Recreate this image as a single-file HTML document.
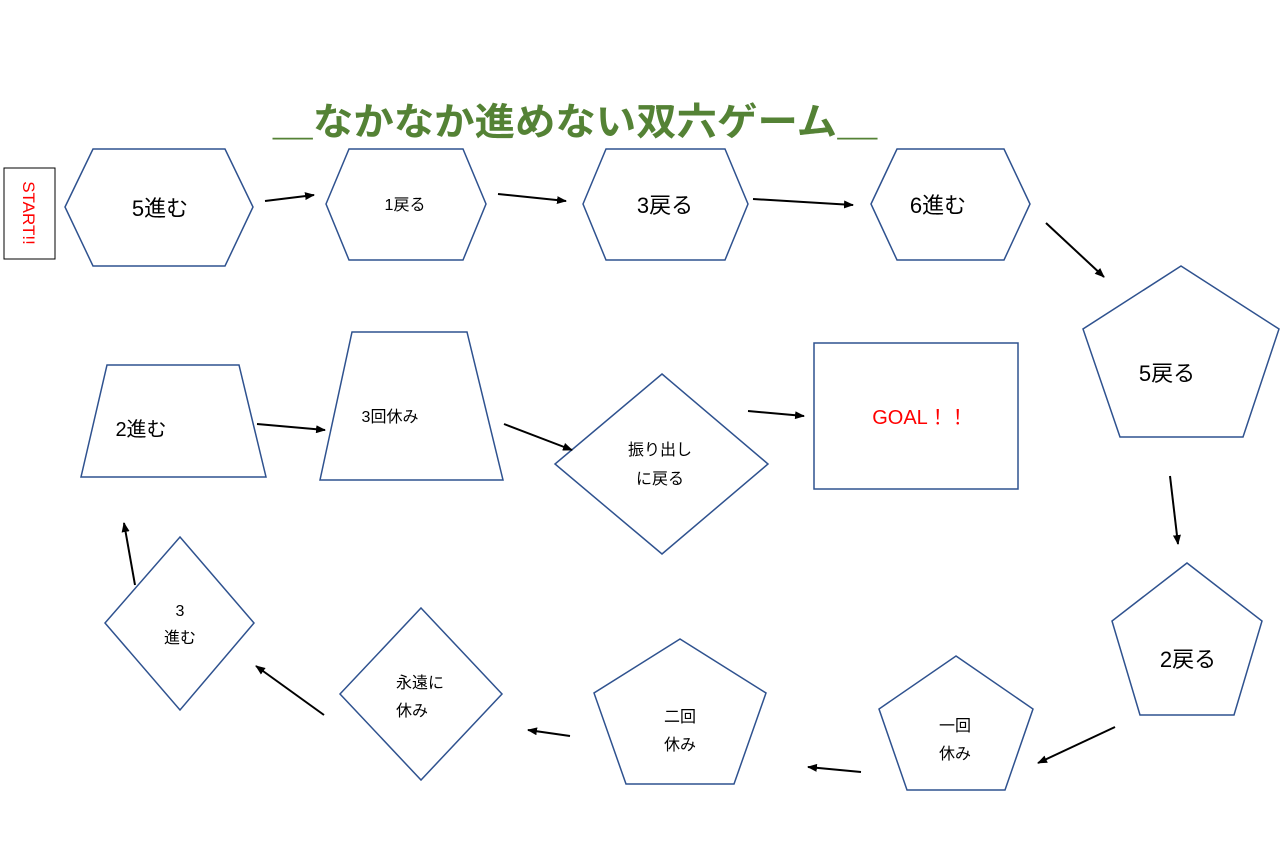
<!DOCTYPE html>
<html><head><meta charset="utf-8"><style>
html,body{margin:0;padding:0;background:#fff;}
svg{display:block;}
text{font-family:"Liberation Sans","Noto Sans CJK JP",sans-serif;}
</style></head><body>
<svg width="1286" height="861" viewBox="0 0 1286 861" xmlns="http://www.w3.org/2000/svg">
<defs><marker id="a" markerWidth="10" markerHeight="8" refX="9" refY="4" orient="auto" markerUnits="userSpaceOnUse"><path d="M0,0 L10,4 L0,8 z" fill="#000"/></marker></defs>
<text x="575" y="135" text-anchor="middle" font-size="38" font-weight="bold" fill="#548235" textLength="605" lengthAdjust="spacingAndGlyphs">＿なかなか進めない双六ゲーム＿</text>
<g fill="none" stroke="#2F528F" stroke-width="1.5">
<polygon points="65,207 93,149 225,149 253,207 225,266 93,266"/>
<polygon points="326,204 349,149 463,149 486,204 463,260 349,260"/>
<polygon points="583,204 606,149 725,149 748,204 725,260 606,260"/>
<polygon points="871,204 897,149 1004,149 1030,204 1004,260 897,260"/>
<polygon points="1181,266 1279,329 1243,437 1120,437 1083,329"/>
<polygon points="1187,563 1262,621 1234,715 1140,715 1112,621"/>
<polygon points="956,656 1033,709 1005,790 907,790 879,709"/>
<polygon points="680,639 766,693 734,784 626,784 594,693"/>
<polygon points="421,608 502,694 421,780 340,694"/>
<polygon points="180,537 254,623 180,710 105,623"/>
<polygon points="107,365 239,365 266,477 81,477"/>
<polygon points="352,332 467,332 503,480 320,480"/>
<polygon points="662,374 768,464 662,554 555,464"/>
<rect x="814" y="343" width="204" height="146"/>
</g>
<rect x="4" y="168" width="51" height="91" fill="none" stroke="#000" stroke-width="1"/>
<text transform="translate(23,213) rotate(90)" text-anchor="middle" font-size="17" fill="#f00">START!!</text>
<g font-size="22" fill="#000" text-anchor="middle">
<text x="160" y="216">5進む</text>
<text x="665" y="213">3戻る</text>
<text x="938" y="213">6進む</text>
<text x="1167" y="381">5戻る</text>
<text x="1188" y="667">2戻る</text>
<text x="141" y="436" font-size="20">2進む</text>
<text x="920" y="424" font-size="20" fill="#f00">GOAL！！</text>
</g>
<g font-size="16" fill="#000" text-anchor="middle">
<text x="405" y="210">1戻る</text>
<text x="390" y="422">3回休み</text>
<text x="660" y="455">振り出し</text>
<text x="660" y="484">に戻る</text>
<text x="955" y="731">一回</text>
<text x="955" y="759">休み</text>
<text x="680" y="722">二回</text>
<text x="680" y="750">休み</text>
<text x="420" y="688">永遠に</text>
<text x="412" y="716">休み</text>
<text x="180" y="616">3</text>
<text x="180" y="643">進む</text>
</g>
<g stroke="#000" stroke-width="2" marker-end="url(#a)">
<line x1="265" y1="201" x2="314" y2="195"/>
<line x1="498" y1="194" x2="566" y2="201"/>
<line x1="753" y1="199" x2="853" y2="205"/>
<line x1="1046" y1="223" x2="1104" y2="277"/>
<line x1="1170" y1="476" x2="1178" y2="544"/>
<line x1="1115" y1="727" x2="1038" y2="763"/>
<line x1="861" y1="772" x2="808" y2="767"/>
<line x1="570" y1="736" x2="528" y2="730"/>
<line x1="324" y1="715" x2="256" y2="666"/>
<line x1="135" y1="585" x2="124" y2="523"/>
<line x1="257" y1="424" x2="325" y2="430"/>
<line x1="504" y1="424" x2="572" y2="450"/>
<line x1="748" y1="411" x2="804" y2="416"/>
</g>
</svg>
</body></html>
